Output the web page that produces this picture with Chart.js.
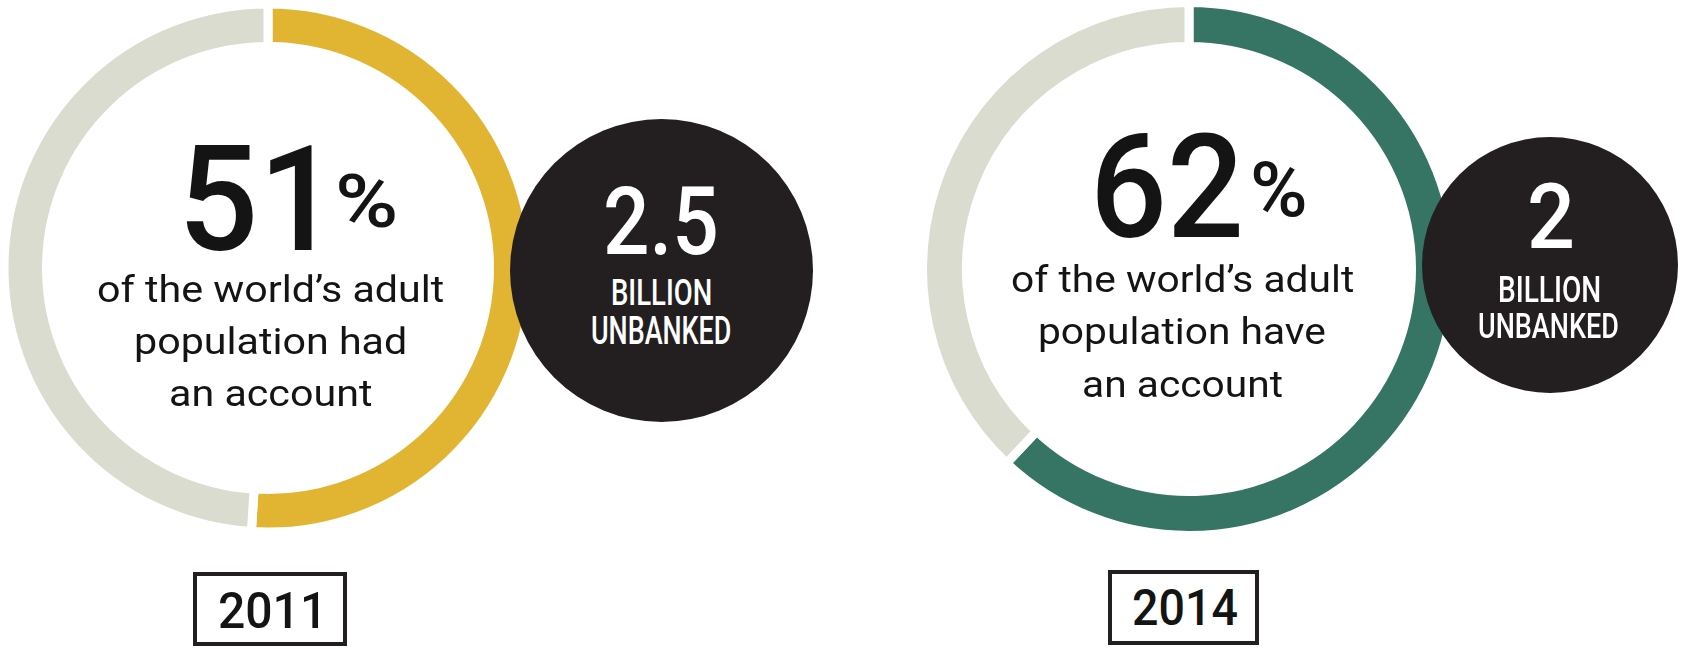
<!DOCTYPE html>
<html><head><meta charset="utf-8">
<script src="https://cdn.jsdelivr.net/npm/chart.js@4/dist/chart.umd.min.js"></script>
<style>
html,body{margin:0;padding:0;background:#fff;width:1684px;height:649px;overflow:hidden;position:relative;font-family:Roboto,sans-serif}
canvas{position:absolute}
.t{position:absolute;white-space:nowrap;transform-origin:0 0;margin:0;z-index:5}
.bubble{position:absolute;border-radius:50%;background:#231f20;z-index:3}
.box{position:absolute;border:4px solid #231f20;box-sizing:border-box}
</style></head><body>
<script>
// ---------- data ----------
const years = ['2011', '2014'];
const accountShare = [51, 62];          // % of adults with an account
const noAccountShare = [49, 38];        // remainder of the ring
const unbankedBillions = ['2.5', '2'];  // billion adults unbanked
const verbs = ['had', 'have'];
const unbankedWords = ['BILLION', 'UNBANKED'];
const sliceLabels = ['With an account', 'Without an account'];

// ---------- styles ----------
const accentColors = ['#E1B431', '#367563'];
const restColor = '#DADCCF';
const inkColor = '#141414';
const FAM = 'Roboto, "DejaVu Sans", sans-serif';
const GAP = 9;

// ---------- layout (pixels) ----------
const donutGeo = [
  {cx: 268, cy: 268, outer: 259.5, inner: 226},
  {cx: 1189, cy: 269, outer: 262, inner: 227}
];
const bubbleGeo = [
  {cx: 661, cy: 270.5, r: 151.5},
  {cx: 1549.5, cy: 265, r: 128}
];
const bigNumGeo = [
  {x0: 187, x1: 312, top: 145, base: 250},
  {x0: 1098, x1: 1240, top: 133, base: 238}
];
const pctGeo = [
  {x0: 338, x1: 395, top: 173, base: 227},
  {x0: 1253, x1: 1305, top: 162, base: 217}
];
const bodyGeo = [
  {x0: 98, x1: 443, top: 275, bases: [303, 355, 407]},
  {x0: 1012, x1: 1353, top: 265, bases: [293, 345, 398]}
];
const bubbleNumGeo = [
  {x0: 606, x1: 716, top: 186, base: 255},
  {x0: 1530, x1: 1572, top: 182, base: 248}
];
const bubbleWordGeo = [
  [{x0: 612, x1: 710, top: 278, base: 305}, {x0: 592, x1: 730, top: 317, base: 345}],
  [{x0: 1500, x1: 1600, top: 275, base: 302}, {x0: 1480, x1: 1618, top: 313, base: 338}]
];
const boxGeo = [
  {left: 193, top: 572, w: 154, h: 74},
  {left: 1108, top: 570, w: 151, h: 75}
];
const yearGeo = [
  {x0: 220, x1: 318, top: 592, base: 629},
  {x0: 1133, x1: 1237, top: 590, base: 626}
];

// ---------- text helpers ----------
const mc = document.createElement('canvas').getContext('2d');
function meas(str, weight, size) { mc.font = weight + ' ' + size + 'px ' + FAM; return mc.measureText(str); }
function fitSize(str, weight, top, base) {
  const m = meas(str, weight, 100);
  return (base - top) / (m.actualBoundingBoxAscent / 100);
}
function inkWidth(m) { return m.actualBoundingBoxLeft + m.actualBoundingBoxRight; }
function put(str, fs, s, weight, color, inkLeft, base) {
  const m = meas(str, weight, fs);
  const el = document.createElement('div');
  el.className = 't';
  el.textContent = str;
  el.style.font = weight + ' ' + fs + 'px ' + FAM;
  el.style.lineHeight = fs + 'px';
  el.style.color = color;
  const baseOff = (fs - (m.fontBoundingBoxAscent + m.fontBoundingBoxDescent)) / 2 + m.fontBoundingBoxAscent;
  el.style.top = (base - baseOff) + 'px';
  el.style.left = (inkLeft + m.actualBoundingBoxLeft * s) + 'px';
  el.style.transform = 'scaleX(' + s + ')';
  document.body.appendChild(el);
  return m;
}
function fitText(str, g, weight, color) {
  const fs = fitSize(str, weight, g.top, g.base);
  const m = meas(str, weight, fs);
  const s = (g.x1 - g.x0) / inkWidth(m);
  put(str, fs, s, weight, color, g.x0, g.base);
}

// ---------- build ----------
years.forEach((yr, i) => {
  const d = donutGeo[i];
  const S = 580;
  const cv = document.createElement('canvas');
  cv.width = S; cv.height = S;
  cv.style.width = S + 'px'; cv.style.height = S + 'px';
  cv.style.left = (d.cx - S / 2) + 'px';
  cv.style.top = (d.cy - S / 2) + 'px';
  document.body.appendChild(cv);
  const R = d.outer + GAP / 2;
  const Ri = d.inner - GAP / 2;
  new Chart(cv, {
    type: 'doughnut',
    data: {
      labels: sliceLabels,
      datasets: [{
        data: [accountShare[i], noAccountShare[i]],
        backgroundColor: [accentColors[i], restColor],
        borderColor: '#ffffff',
        borderWidth: GAP,
        hoverOffset: 0
      }]
    },
    options: {
      responsive: false,
      animation: false,
      events: [],
      radius: R,
      cutout: (Ri / R * 100) + '%',
      layout: {padding: 0},
      plugins: {legend: {display: false}, tooltip: {enabled: false}}
    }
  });

  // centre text
  fitText(String(accountShare[i]), bigNumGeo[i], 500, inkColor);
  fitText('%', pctGeo[i], 500, inkColor);
  const lines = ['of the world\u2019s adult', 'population ' + verbs[i], 'an account'];
  const bg = bodyGeo[i];
  const fs = fitSize(lines[0], 400, bg.top, bg.bases[0]);
  const m0 = meas(lines[0], 400, fs);
  const s = (bg.x1 - bg.x0) / inkWidth(m0);
  const cx = (bg.x0 + bg.x1) / 2;
  lines.forEach((ln, k) => {
    const m = meas(ln, 400, fs);
    put(ln, fs, s, 400, inkColor, cx - inkWidth(m) * s / 2, bg.bases[k]);
  });

  // unbanked bubble
  const b = bubbleGeo[i];
  const bub = document.createElement('div');
  bub.className = 'bubble';
  bub.style.left = (b.cx - b.r) + 'px';
  bub.style.top = (b.cy - b.r) + 'px';
  bub.style.width = (2 * b.r) + 'px';
  bub.style.height = (2 * b.r) + 'px';
  document.body.appendChild(bub);
  fitText(unbankedBillions[i], bubbleNumGeo[i], 500, '#ffffff');
  unbankedWords.forEach((w, k) => fitText(w, bubbleWordGeo[i][k], 500, '#ffffff'));

  // year box
  const bx = boxGeo[i];
  const box = document.createElement('div');
  box.className = 'box';
  box.style.left = bx.left + 'px';
  box.style.top = bx.top + 'px';
  box.style.width = bx.w + 'px';
  box.style.height = bx.h + 'px';
  document.body.appendChild(box);
  fitText(yr, yearGeo[i], 500, inkColor);
});
</script>
</body></html>
